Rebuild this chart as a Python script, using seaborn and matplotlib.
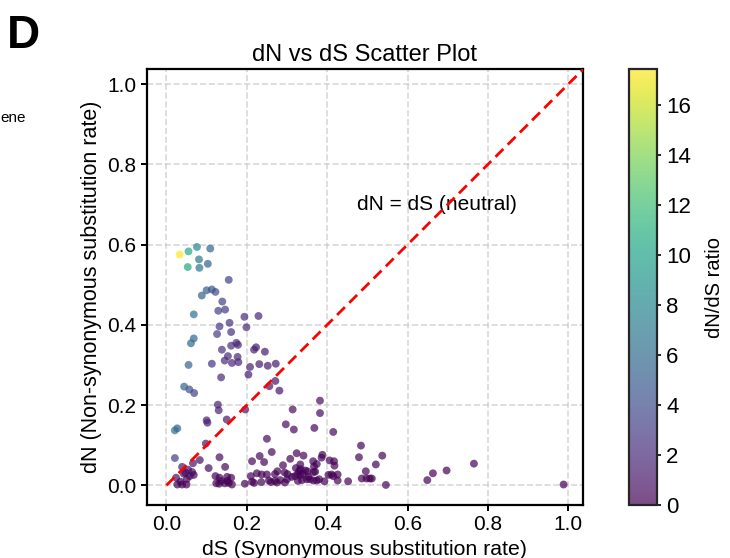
import numpy as np
import seaborn as sns
import matplotlib.pyplot as plt
from matplotlib import cm, colors

sns.set_theme(style="ticks")
plt.rcParams['font.family'] = ['Liberation Sans', 'DejaVu Sans']
plt.rcParams['text.color'] = 'black'
plt.rcParams['axes.labelcolor'] = 'black'
plt.rcParams['xtick.color'] = 'black'
plt.rcParams['ytick.color'] = 'black'

# synonymous (dS) and non-synonymous (dN) rates
dS = [0.033, 0.055, 0.076, 0.109, 0.081, 0.103, 0.053, 0.082, 0.155, 0.100,
      0.113, 0.122, 0.088, 0.139, 0.068, 0.129, 0.146, 0.194, 0.229, 0.157,
      0.132, 0.199, 0.161, 0.126, 0.068, 0.061, 0.138, 0.161, 0.174, 0.178,
      0.223, 0.218, 0.245, 0.153, 0.177, 0.145, 0.163, 0.179, 0.113, 0.055,
      0.208, 0.231, 0.252, 0.272, 0.204, 0.136, 0.044, 0.057, 0.069, 0.256,
      0.271, 0.281, 0.128, 0.130, 0.196, 0.100, 0.102, 0.150, 0.027, 0.021,
      0.098, 0.021, 0.132, 0.083, 0.105, 0.066, 0.039, 0.054, 0.047, 0.043,
      0.064, 0.068, 0.058, 0.051, 0.024, 0.035, 0.027, 0.039, 0.050, 0.122,
      0.132, 0.151, 0.161, 0.136, 0.145, 0.155, 0.131, 0.163, 0.124, 0.195,
      0.213, 0.232, 0.250, 0.210, 0.225, 0.237, 0.250, 0.218, 0.236, 0.255,
      0.243, 0.262, 0.314, 0.382, 0.382, 0.297, 0.317, 0.368, 0.415, 0.324,
      0.341, 0.308, 0.290, 0.365, 0.374, 0.388, 0.386, 0.406, 0.417, 0.418,
      0.484, 0.479, 0.537, 0.521, 0.496, 0.486, 0.498, 0.506, 0.511, 0.546,
      0.452, 0.649, 0.663, 0.697, 0.765, 0.988, 0.367, 0.370, 0.403, 0.411,
      0.426, 0.426, 0.415, 0.353, 0.349, 0.366, 0.374, 0.393, 0.333, 0.334,
      0.333, 0.339, 0.351, 0.146, 0.151, 0.276, 0.270, 0.294, 0.301, 0.322,
      0.330, 0.327, 0.345, 0.213, 0.260, 0.270, 0.275, 0.283, 0.295, 0.300,
      0.312, 0.320, 0.327, 0.337, 0.357, 0.380, 0.366]

dN = [0.575, 0.583, 0.594, 0.590, 0.563, 0.552, 0.544, 0.542, 0.512, 0.486,
      0.488, 0.482, 0.473, 0.458, 0.426, 0.435, 0.438, 0.420, 0.422, 0.405,
      0.396, 0.394, 0.382, 0.377, 0.366, 0.354, 0.338, 0.348, 0.355, 0.350,
      0.344, 0.338, 0.333, 0.322, 0.320, 0.311, 0.305, 0.307, 0.303, 0.300,
      0.295, 0.302, 0.298, 0.303, 0.276, 0.269, 0.246, 0.239, 0.230, 0.247,
      0.260, 0.236, 0.201, 0.187, 0.189, 0.162, 0.156, 0.164, 0.142, 0.137,
      0.104, 0.068, 0.070, 0.063, 0.043, 0.055, 0.046, 0.039, 0.032, 0.029,
      0.033, 0.026, 0.023, 0.016, 0.019, 0.009, 0.002, 0.002, 0.002, 0.023,
      0.019, 0.021, 0.019, 0.011, 0.005, 0.006, 0.004, 0.002, 0.005, 0.004,
      0.060, 0.073, 0.116, 0.023, 0.030, 0.027, 0.027, 0.006, 0.008, 0.012,
      0.058, 0.083, 0.189, 0.211, 0.180, 0.152, 0.139, 0.143, 0.133, 0.080,
      0.074, 0.066, 0.050, 0.060, 0.053, 0.076, 0.069, 0.062, 0.060, 0.049,
      0.099, 0.070, 0.074, 0.052, 0.035, 0.017, 0.017, 0.017, 0.017, 0.001,
      0.010, 0.013, 0.030, 0.037, 0.054, 0.002, 0.047, 0.034, 0.026, 0.027,
      0.027, 0.012, 0.023, 0.021, 0.015, 0.012, 0.012, 0.010, 0.052, 0.040,
      0.025, 0.029, 0.035, 0.046, 0.011, 0.035, 0.028, 0.032, 0.028, 0.043,
      0.036, 0.028, 0.037, 0.009, 0.008, 0.011, 0.007, 0.013, 0.007, 0.015,
      0.021, 0.023, 0.011, 0.013, 0.015, 0.015, 0.033]

ticks = [0.0, 0.2, 0.4, 0.6, 0.8, 1.0]
cbar_ticks = [0, 2, 4, 6, 8, 10, 12, 14, 16]

dS = np.array(dS)
dN = np.array(dN)
ratio = dN / dS

fig = plt.figure(figsize=(7.3, 5.58), dpi=100)
ax = fig.add_axes([0.201, 0.095, 0.598, 0.781])
cax = fig.add_axes([0.862, 0.095, 0.038, 0.781])

norm = colors.Normalize(vmin=0, vmax=ratio.max())
sns.scatterplot(x=dS, y=dN, hue=ratio, hue_norm=norm, palette="viridis",
                s=32, alpha=0.7, linewidth=0, legend=False, ax=ax, zorder=3)

lim = 1.037
ax.plot([0, 1.1], [0, 1.1], color="red", linestyle="--", linewidth=2,
        dashes=(4, 2.2), zorder=4)
ax.text(0.475, 0.70, "dN = dS (neutral)", fontsize=15, va="center")

ax.set_xlim(-0.049, lim)
ax.set_ylim(-0.049, lim)
ax.set_xticks(ticks)
ax.set_yticks(ticks)
ax.grid(True, linestyle="--", color="#c8c8c8", alpha=0.7, linewidth=1.2)
ax.set_axisbelow(True)
for sp in ax.spines.values():
    sp.set_linewidth(1.6)
    sp.set_color("black")
ax.tick_params(labelsize=15, width=1.4, length=4, direction="out")
ax.set_xlabel("dS (Synonymous substitution rate)", fontsize=15.3, labelpad=4)
ax.set_ylabel("dN (Non-synonymous substitution rate)", fontsize=15.5, labelpad=4)
ax.set_title("dN vs dS Scatter Plot", fontsize=17, pad=6)

sm = cm.ScalarMappable(norm=norm, cmap="viridis")
cb = fig.colorbar(sm, cax=cax, alpha=0.7)
cb.set_ticks(cbar_ticks)
cb.outline.set_linewidth(1.6)
cb.ax.tick_params(labelsize=16, width=1.2, length=3)
cb.set_label("dN/dS ratio", fontsize=14.5, labelpad=10)

fig.text(0.01, 0.935, "D", fontsize=33, fontweight="bold", va="center")
fig.text(0.0, 0.789, "ene", fontsize=11, va="center")

fig.savefig("out.png", dpi=100)
